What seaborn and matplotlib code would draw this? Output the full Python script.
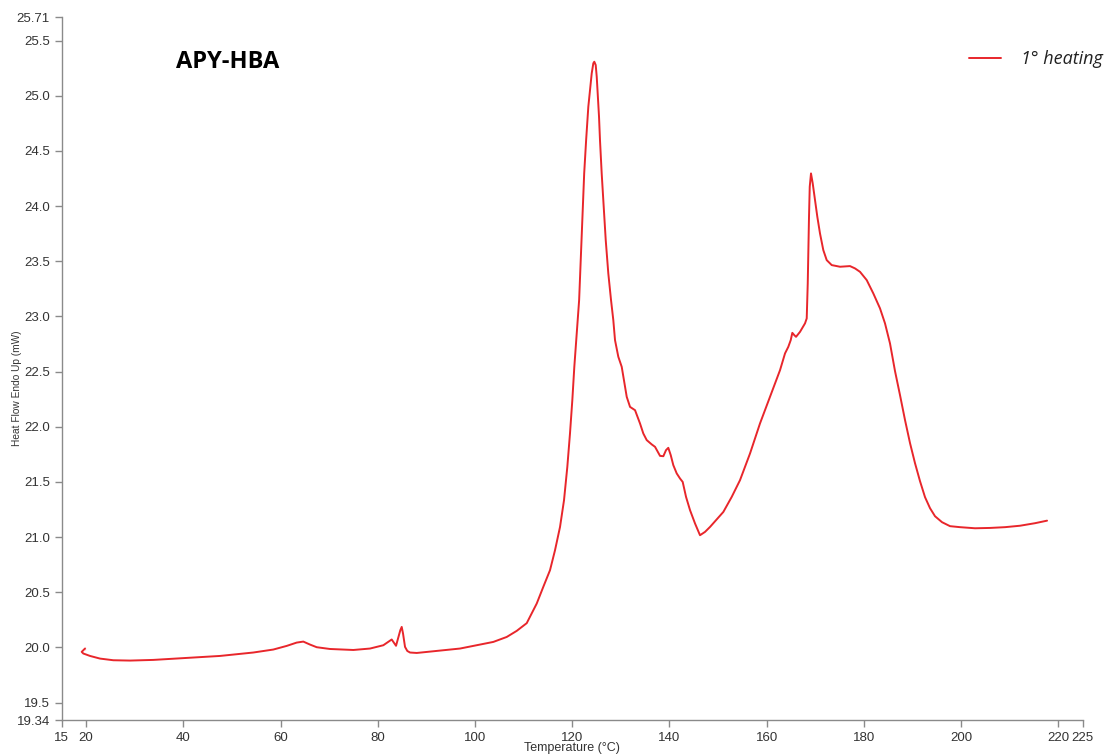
import matplotlib
matplotlib.use("Agg")
import matplotlib.pyplot as plt
import seaborn as sns
import pandas as pd

# DSC first heating scan of APY-HBA: temperature (°C) and heat flow (mW)
temperature_c = [
    19.79, 19.79, 19.11, 19.44, 20.82, 22.88, 25.61, 29.05, 33.84, 40.71,
    47.56, 54.41, 58.52, 61.28, 63.33, 64.69, 66.07, 67.45, 70.18, 74.98,
    78.41, 81.15, 82.87, 83.76, 84.64, 84.93, 85.2, 85.61, 86.08, 86.64,
    88.02, 90.07, 96.92, 103.77, 106.53, 108.58, 110.64, 112.7, 114.05, 115.43,
    116.46, 117.49, 118.31, 118.99, 119.54, 120.02, 120.43, 120.92, 121.42, 121.78,
    122.12, 122.46, 122.86, 123.31, 123.66, 124.01, 124.34, 124.54, 124.83, 125.04,
    125.24, 125.51, 125.71, 126.06, 126.39, 126.89, 127.42, 127.98, 128.45, 128.8,
    129.48, 130.18, 130.86, 131.21, 131.89, 132.92, 133.94, 134.62, 135.32, 136.35,
    137.03, 138.06, 138.74, 139.29, 139.76, 140.26, 140.79, 141.49, 142.17, 142.72,
    143.41, 144.23, 145.26, 146.28, 147.31, 148.34, 151.08, 152.8, 154.51, 156.57,
    158.62, 160.67, 162.74, 163.77, 164.44, 164.94, 165.27, 165.68, 166.03, 166.85,
    167.88, 168.23, 168.44, 168.56, 168.70, 168.85, 169.11, 169.46, 169.94, 170.41,
    170.96, 171.64, 172.34, 173.37, 175.08, 177.13, 178.16, 179.19, 180.57, 181.93,
    183.3, 184.33, 185.36, 186.39, 187.42, 188.45, 189.48, 190.5, 191.53, 192.56,
    193.59, 194.62, 196.06, 197.71, 199.76, 202.85, 205.93, 209.02, 212.1, 215.19,
    217.66,
]
heat_flow_mw = [
    20.005, 19.975, 19.96, 19.945, 19.923, 19.899, 19.884, 19.881, 19.887, 19.905,
    19.923, 19.954, 19.981, 20.014, 20.044, 20.053, 20.026, 20.002, 19.986, 19.977,
    19.99, 20.02, 20.072, 20.015, 20.156, 20.186, 20.126, 20.005, 19.968, 19.954,
    19.95, 19.959, 19.99, 20.05, 20.095, 20.15, 20.22, 20.398, 20.549, 20.70,
    20.881, 21.092, 21.334, 21.636, 21.939, 22.241, 22.543, 22.846, 23.148, 23.54,
    23.934, 24.296, 24.598, 24.9, 25.052, 25.203, 25.294, 25.308, 25.278, 25.172,
    25.022, 24.81, 24.598, 24.296, 24.054, 23.692, 23.39, 23.148, 22.966, 22.785,
    22.634, 22.543, 22.362, 22.271, 22.18, 22.15, 22.03, 21.939, 21.879, 21.84,
    21.818, 21.736, 21.733, 21.788, 21.809, 21.743, 21.652, 21.577, 21.531, 21.50,
    21.364, 21.244, 21.123, 21.017, 21.047, 21.092, 21.228, 21.364, 21.516, 21.758,
    22.03, 22.271, 22.513, 22.665, 22.724, 22.785, 22.851, 22.83, 22.815, 22.86,
    22.937, 22.982, 23.299, 23.601, 23.903, 24.175, 24.296, 24.206, 24.054, 23.903,
    23.752, 23.601, 23.51, 23.465, 23.45, 23.456, 23.435, 23.404, 23.329, 23.208,
    23.073, 22.937, 22.755, 22.504, 22.286, 22.06, 21.851, 21.67, 21.507, 21.362,
    21.262, 21.189, 21.135, 21.099, 21.09, 21.08, 21.083, 21.09, 21.103, 21.126,
    21.149,
]

x_ticks = [15, 20, 40, 60, 80, 100, 120, 140, 160, 180, 200, 220, 225]
y_ticks = [19.34, 19.5, 20.0, 20.5, 21.0, 21.5, 22.0, 22.5, 23.0, 23.5, 24.0, 24.5, 25.0, 25.5, 25.71]
x_tick_labels = [str(t) for t in x_ticks]
y_tick_labels = ["19.34", "19.5", "20.0", "20.5", "21.0", "21.5", "22.0", "22.5",
                 "23.0", "23.5", "24.0", "24.5", "25.0", "25.5", "25.71"]

series_label = "1° heating"
sample_name = "APY-HBA"

df = pd.DataFrame({"Temperature": temperature_c, "HeatFlow": heat_flow_mw})

sns.set_style("ticks")
plt.rcParams["font.family"] = ["Liberation Sans", "DejaVu Sans"]

fig = plt.figure(figsize=(11.08, 7.55), dpi=100)
ax = fig.add_axes([0.0557, 0.046, 0.9215, 0.931])

sns.lineplot(data=df, x="Temperature", y="HeatFlow", sort=False,
             color="#e8262b", linewidth=1.4, ax=ax, label=series_label)

ax.set_xlim(15, 225)
ax.set_ylim(19.34, 25.71)
ax.set_xticks(x_ticks)
ax.set_xticklabels(x_tick_labels)
ax.set_yticks(y_ticks)
ax.set_yticklabels(y_tick_labels)

axis_grey = "#8a8a8a"
for side in ("top", "right"):
    ax.spines[side].set_visible(False)
for side in ("left", "bottom"):
    ax.spines[side].set_color(axis_grey)
    ax.spines[side].set_linewidth(1.0)
ax.tick_params(axis="both", colors=axis_grey, length=5, width=1.0,
               labelsize=9.5, labelcolor="#333333")

# axis titles placed in figure space so they sit inside the canvas
ax.set_xlabel("")
ax.set_ylabel("")
fig.text(572 / 1108, 1 - 748 / 755, "Temperature (°C)", fontsize=9,
         color="#333333", ha="center", va="center")
fig.text(17 / 1108, 1 - 388 / 755, "Heat Flow Endo Up (mW)", fontsize=7.3,
         color="#333333", ha="center", va="center", rotation=90)

ax.text(0.112, 0.936, sample_name, transform=ax.transAxes, fontsize=17,
        fontweight="bold", family=["Open Sans", "DejaVu Sans"],
        ha="left", va="center", color="black")

leg = ax.legend(loc="center right", bbox_to_anchor=(1.01, 0.922),
                bbox_transform=fig.transFigure, frameon=False,
                handlelength=1.8, handletextpad=1.1,
                prop={"family": ["Open Sans", "DejaVu Sans"], "style": "italic", "size": 13})
for t in leg.get_texts():
    t.set_color("#222222")

fig.savefig("out.png", dpi=100)
